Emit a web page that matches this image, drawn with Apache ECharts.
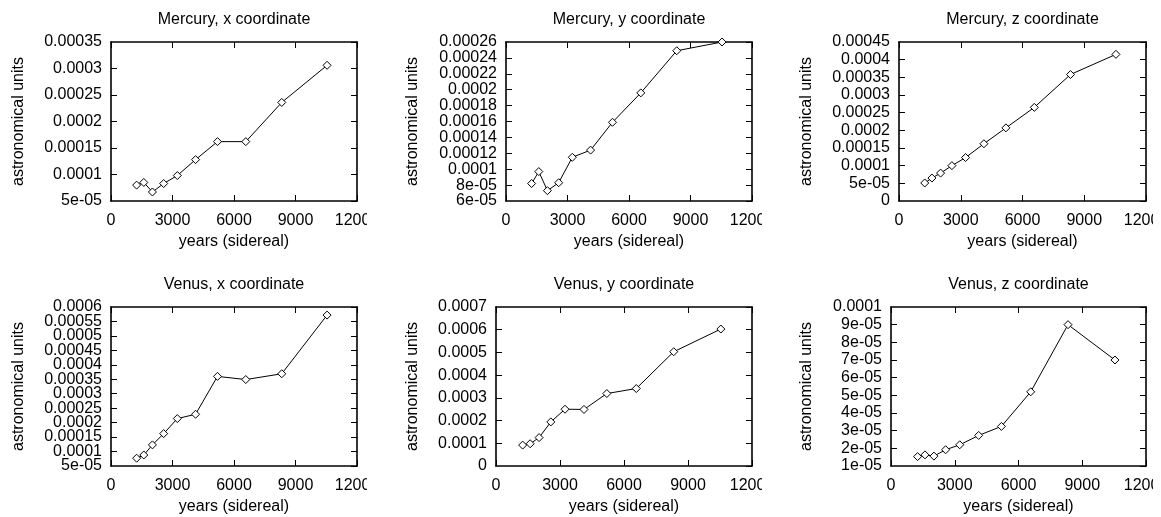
<!DOCTYPE html>
<html>
<head>
<meta charset="utf-8">
<script src="https://cdn.jsdelivr.net/npm/echarts@6/dist/echarts.min.js"></script>
<style>
  html, body { margin: 0; padding: 0; background: #fff; }
  body { width: 1161px; height: 517px; position: relative; overflow: hidden; }
  .panel { position: absolute; }
</style>
</head>
<body>
<div id="p0" class="panel"></div>
<div id="p1" class="panel"></div>
<div id="p2" class="panel"></div>
<div id="p3" class="panel"></div>
<div id="p4" class="panel"></div>
<div id="p5" class="panel"></div>
<script>
// Sample times (sidereal years) shared by every panel
const years = [1250, 1600, 2020, 2570, 3235, 4125, 5195, 6575, 8330, 10540];

// Coordinate errors, astronomical units
const mercuryX = [8.0e-5, 8.5e-5, 6.7e-5, 8.3e-5, 9.8e-5, 1.28e-4, 1.62e-4, 1.62e-4, 2.36e-4, 3.06e-4];
const mercuryY = [8.2e-5, 9.7e-5, 7.3e-5, 8.3e-5, 1.15e-4, 1.24e-4, 1.59e-4, 1.96e-4, 2.49e-4, 2.6e-4];
const mercuryZ = [5.1e-5, 6.5e-5, 7.9e-5, 1.0e-4, 1.23e-4, 1.62e-4, 2.07e-4, 2.65e-4, 3.58e-4, 4.15e-4];
const venusX = [7.7e-5, 8.8e-5, 1.23e-4, 1.62e-4, 2.14e-4, 2.29e-4, 3.6e-4, 3.49e-4, 3.69e-4, 5.72e-4];
const venusY = [9.2e-5, 9.8e-5, 1.25e-4, 1.94e-4, 2.5e-4, 2.49e-4, 3.19e-4, 3.41e-4, 5.03e-4, 6.03e-4];
const venusZ = [1.53e-5, 1.63e-5, 1.56e-5, 1.92e-5, 2.2e-5, 2.73e-5, 3.24e-5, 5.2e-5, 9.0e-5, 7.0e-5];

const titles = [
  'Mercury, x coordinate', 'Mercury, y coordinate', 'Mercury, z coordinate',
  'Venus, x coordinate', 'Venus, y coordinate', 'Venus, z coordinate'
];
const seriesValues = [mercuryX, mercuryY, mercuryZ, venusX, venusY, venusZ];

// Y axis ranges [min, max, step]
const yRanges = [
  [5e-5, 3.5e-4, 5e-5],
  [6e-5, 2.6e-4, 2e-5],
  [0, 4.5e-4, 5e-5],
  [5e-5, 6e-4, 5e-5],
  [0, 7e-4, 1e-4],
  [1e-5, 1e-4, 1e-5]
];
const xRange = [0, 12000, 3000];
const xName = 'years (sidereal)';
const yName = 'astronomical units';

// Panel boxes: div placement and plot-area insets
const layout = [
  { left: 0,   top: 0,   width: 367, height: 258, gl: 111, gr: 10, gt: 42, gh: 159, yGap: 84 },
  { left: 387, top: 0,   width: 375, height: 258, gl: 119, gr: 10, gt: 42, gh: 159, yGap: 85 },
  { left: 774, top: 0,   width: 379, height: 258, gl: 125, gr: 7,  gt: 42, gh: 159, yGap: 84 },
  { left: 0,   top: 258, width: 367, height: 259, gl: 111, gr: 10, gt: 49, gh: 159, yGap: 84 },
  { left: 387, top: 258, width: 375, height: 259, gl: 109, gr: 10, gt: 49, gh: 159, yGap: 75 },
  { left: 774, top: 258, width: 379, height: 259, gl: 117, gr: 7,  gt: 49, gh: 159, yGap: 76 }
];

const FONT = 'Liberation Sans, Arial, Helvetica, sans-serif';
const FS = 16;
const INK = '#000';

// %g-style number formatting for tick labels
function gfmt(v) {
  if (Math.abs(v) < 1e-12) return '0';
  const r = Number(v.toPrecision(6));
  const e = Math.floor(Math.log10(Math.abs(r)) + 1e-9);
  if (e < -4) {
    return r.toExponential().replace(/e([+-])(\d+)$/, function (m, sign, digits) {
      return 'e' + sign + (digits.length < 2 ? '0' + digits : digits);
    });
  }
  return String(r);
}

function build(i) {
  const L = layout[i];
  const el = document.getElementById('p' + i);
  el.style.left = L.left + 'px';
  el.style.top = L.top + 'px';
  el.style.width = L.width + 'px';
  el.style.height = L.height + 'px';
  const chart = echarts.init(el, null, { renderer: 'canvas', width: L.width, height: L.height });
  const yr = yRanges[i];
  const eps = yr[2] * 1e-6;
  const isEnd = function (v) { return Math.abs(v - yr[0]) < eps || Math.abs(v - yr[1]) < eps; };
  const lineStyle = { color: INK, width: 1.6 };
  const tick = { show: true, inside: true, length: 6, lineStyle: { color: INK, width: 1 } };
  const labelStyle = { color: INK, fontFamily: FONT, fontSize: FS };
  const plotCenter = L.gl + (L.width - L.gl - L.gr) / 2;

  chart.setOption({
    animation: false,
    backgroundColor: '#fff',
    title: {
      text: titles[i],
      left: plotCenter,
      top: L.gt - 30,
      textAlign: 'center',
      padding: 0,
      textStyle: { color: INK, fontFamily: FONT, fontSize: FS, fontWeight: 'normal' }
    },
    grid: {
      left: L.gl, right: L.gr, top: L.gt, height: L.gh,
      containLabel: false, outerBoundsMode: 'none'
    },
    xAxis: [
      {
        type: 'value', min: xRange[0], max: xRange[1], interval: xRange[2],
        position: 'bottom',
        name: xName, nameLocation: 'middle', nameGap: 32,
        nameTextStyle: labelStyle,
        axisLine: { show: true, onZero: false, lineStyle: lineStyle },
        axisTick: tick,
        axisLabel: Object.assign({
          margin: 12, showMinLabel: true, showMaxLabel: true,
          formatter: function (v) { return String(v); }
        }, labelStyle),
        splitLine: { show: false }
      },
      {
        type: 'value', min: xRange[0], max: xRange[1], interval: xRange[2],
        position: 'top',
        axisLine: { show: true, onZero: false, lineStyle: lineStyle },
        axisTick: tick,
        axisLabel: { show: false },
        splitLine: { show: false }
      }
    ],
    yAxis: [
      {
        // main left axis: interior tick labels
        type: 'value', min: yr[0], max: yr[1], interval: yr[2],
        position: 'left',
        name: yName, nameLocation: 'middle', nameGap: L.yGap,
        nameTextStyle: labelStyle,
        axisLine: { show: true, onZero: false, lineStyle: lineStyle },
        axisTick: tick,
        axisLabel: Object.assign({
          margin: 9, showMinLabel: false, showMaxLabel: false,
          formatter: gfmt
        }, labelStyle),
        splitLine: { show: false }
      },
      {
        type: 'value', min: yr[0], max: yr[1], interval: yr[2],
        position: 'right',
        axisLine: { show: true, onZero: false, lineStyle: lineStyle },
        axisTick: tick,
        axisLabel: { show: false },
        splitLine: { show: false }
      },
      {
        // companion left axis carrying only the end labels
        type: 'value', min: yr[0], max: yr[1], interval: yr[2],
        position: 'left', offset: 0,
        axisLine: { show: false },
        axisTick: { show: false },
        axisLabel: Object.assign({
          margin: 9, showMinLabel: true, showMaxLabel: true,
          formatter: function (v) { return isEnd(v) ? gfmt(v) : ''; }
        }, labelStyle),
        splitLine: { show: false }
      }
    ],
    series: [{
      type: 'line',
      xAxisIndex: 0, yAxisIndex: 0,
      data: years.map(function (x, k) { return [x, seriesValues[i][k]]; }),
      symbol: 'diamond',
      symbolSize: 8,
      showSymbol: true,
      clip: false,
      lineStyle: { color: INK, width: 1 },
      itemStyle: { color: '#fff', borderColor: INK, borderWidth: 1 }
    }]
  });
}

for (let i = 0; i < 6; i++) build(i);
</script>
</body>
</html>
